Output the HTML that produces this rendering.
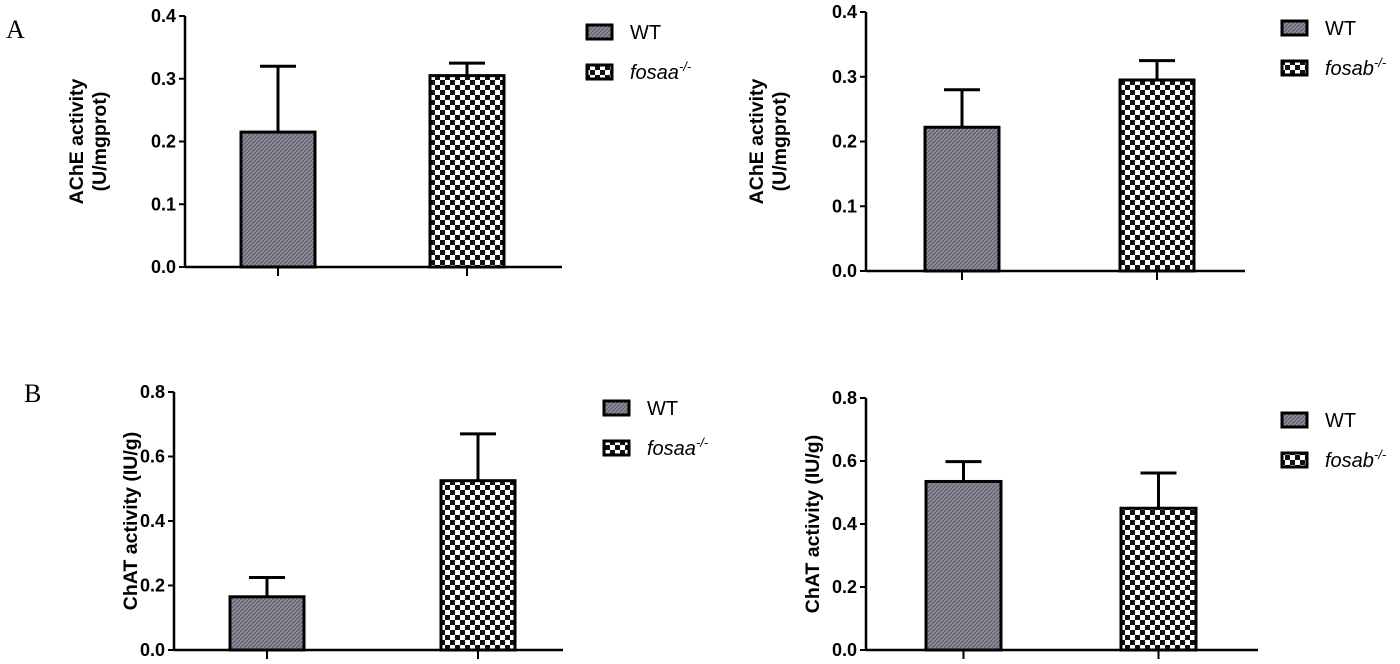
<!DOCTYPE html>
<html><head><meta charset="utf-8"><style>
body{margin:0;background:#fff;}
svg{display:block;font-family:"Liberation Sans",Arial,sans-serif;}
</style></head><body>
<svg id="fig" width="1400" height="664" viewBox="0 0 1400 664">
<defs>
<pattern id="checker" width="10" height="10" patternUnits="userSpaceOnUse">
<rect width="10" height="10" fill="#fff"/><rect width="5" height="5" fill="#111"/><rect x="5" y="5" width="5" height="5" fill="#111"/>
</pattern>
<pattern id="hatch" width="4" height="4" patternUnits="userSpaceOnUse">
<rect width="4" height="4" fill="#8e8a98"/><path d="M0 4L4 0" stroke="#5a5763" stroke-width="1"/>
</pattern>
</defs>
<text x="6" y="38" font-family="Liberation Serif,serif" font-size="26">A</text>
<text x="24" y="402" font-family="Liberation Serif,serif" font-size="26">B</text>
</svg>
<script>
const categories=["WT","KO"];
const aLeftMeans=[0.215,0.305];const aLeftErr=[0.105,0.02];
const aRightMeans=[0.222,0.295];const aRightErr=[0.058,0.03];
const bLeftMeans=[0.165,0.525];const bLeftErr=[0.06,0.145];
const bRightMeans=[0.535,0.45];const bRightErr=[0.063,0.112];
const aTicks=["0.0","0.1","0.2","0.3","0.4"];
const bTicks=["0.0","0.2","0.4","0.6","0.8"];
const legA1=["WT","fosaa"];const legA2=["WT","fosab"];
const NS="http://www.w3.org/2000/svg";
const svg=document.getElementById('fig');
function el(t,a,p){const e=document.createElementNS(NS,t);for(const k in a)e.setAttribute(k,a[k]);(p||svg).appendChild(e);return e;}
function panel(cfg){
 const g=el('g',{});
 
 
 const y=v=>cfg.y0-(v/cfg.max)*(cfg.y0-cfg.yTop);
 el('line',{x1:cfg.ax,y1:cfg.yTop,x2:cfg.ax,y2:cfg.y0+1,stroke:'#000','stroke-width':2.5},g);
 el('line',{x1:cfg.ax,y1:cfg.y0,x2:cfg.axEnd,y2:cfg.y0,stroke:'#000','stroke-width':2.5},g);
 cfg.ticks.forEach((t,i)=>{const v=cfg.max*i/(cfg.ticks.length-1);const yy=y(v);
  el('line',{x1:cfg.ax-6,y1:yy,x2:cfg.ax,y2:yy,stroke:'#000','stroke-width':2},g);
  const tx=el('text',{x:cfg.ax-9,y:yy+6,'text-anchor':'end','font-size':18,'font-weight':'bold'},g);tx.textContent=t;
  });
 cfg.means.forEach((m,i)=>{const x=cfg.bx[i],w=cfg.bw;
  const r=el('rect',{x:x,y:y(m),width:w,height:cfg.y0-y(m),fill:i?'url(#checker)':'url(#hatch)',stroke:'#000','stroke-width':3},g);
  
  const cx=x+w/2,top=y(m+cfg.err[i]);
  const e=el('path',{d:`M${cx} ${y(m)}V${top}M${cx-18} ${top}H${cx+18}`,stroke:'#000','stroke-width':3,fill:'none'},g);
  
  el('line',{x1:cx,y1:cfg.y0,x2:cx,y2:cfg.y0+9,stroke:'#000','stroke-width':2},g);});
 const lab=el('text',{transform:`translate(${cfg.lx},${(cfg.yTop+cfg.y0)/2}) rotate(-90)`,'text-anchor':'middle','font-size':19.5,'font-weight':'bold'},g);
 
 cfg.label.forEach((s,i)=>{const ts=el('tspan',{x:0,dy:i?23:0},lab);ts.textContent=s;});
 cfg.leg.forEach((s,i)=>{const ly=cfg.legY+i*40;
  const b=el('rect',{x:cfg.legX,y:ly-7,width:25,height:14,fill:i?'url(#checker)':'url(#hatch)',stroke:'#000','stroke-width':3},g);
  
  const t=el('text',{x:cfg.legX+43,y:ly+7,'font-size':20,'font-style':i?'italic':'normal'},g);
  
  t.textContent=s; if(i){const sp=el('tspan',{dy:-8,'font-size':13},t);sp.textContent='-/-';}});
}
panel({name:'panel-a-left',ax:185,axEnd:562,yTop:16,y0:267,max:0.4,ticks:aTicks,means:aLeftMeans,err:aLeftErr,bx:[241,430],bw:74,lx:83,label:["AChE activity","(U/mgprot)"],leg:legA1,legX:587,legY:32});
panel({name:'panel-a-right',ax:866,axEnd:1245,yTop:12,y0:271,max:0.4,ticks:aTicks,means:aRightMeans,err:aRightErr,bx:[925,1120],bw:74,lx:763,label:["AChE activity","(U/mgprot)"],leg:legA2,legX:1282,legY:28});
panel({name:'panel-b-left',ax:174,axEnd:563,yTop:392,y0:650,max:0.8,ticks:bTicks,means:bLeftMeans,err:bLeftErr,bx:[230,441],bw:74,lx:137,label:["ChAT activity (IU/g)"],leg:legA1,legX:604,legY:408});
panel({name:'panel-b-right',ax:866,axEnd:1258,yTop:398,y0:650,max:0.8,ticks:bTicks,means:bRightMeans,err:bRightErr,bx:[926,1121],bw:75,lx:819,label:["ChAT activity (IU/g)"],leg:legA2,legX:1282,legY:420});
</script>
</body></html>
